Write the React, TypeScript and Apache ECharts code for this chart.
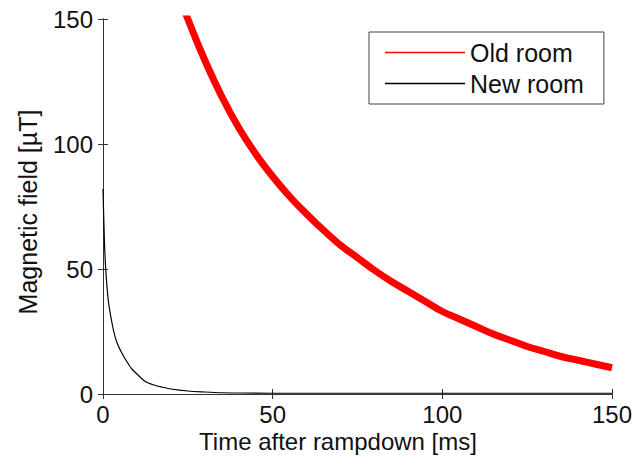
import React, { useEffect, useRef } from "react";
import * as echarts from "echarts";

const oldRoomT = [21, 25, 30, 35, 40, 45, 50, 55, 60, 65, 70, 75, 80, 85, 90, 95, 100, 105, 110, 115, 120, 125, 130, 135, 140, 145, 150];
const oldRoomV = [165, 150, 133.5, 119, 106.5, 96, 87, 79, 72, 65.5, 59.5, 54.5, 49.5, 45, 41, 37, 33, 30, 27, 24, 21.5, 19, 17, 15, 13.5, 12, 10.5];

const newRoomT = [0, 0.4, 0.8, 1.6, 3, 4, 5.5, 7, 8.5, 10, 12.5, 15, 17.5, 20, 25, 30, 35, 40, 50, 75, 100, 125, 150];
const newRoomV = [82, 62, 50, 37, 26, 21, 16.5, 13, 10, 8, 5, 3.6, 2.7, 2, 1.2, 0.8, 0.5, 0.4, 0.3, 0.3, 0.3, 0.3, 0.3];

const xTicks = [0, 50, 100, 150];
const yTicks = [0, 50, 100, 150];

const seriesNames = ["Old room", "New room"];
const seriesColors = ["#ff0000", "#000000"];
const xTitle = "Time after rampdown [ms]";
const yTitle = "Magnetic field [\u00B5T]";

const FONT = "Liberation Sans, Arial, Helvetica, sans-serif";

export default function App() {
  const ref = useRef<HTMLDivElement>(null);
  useEffect(() => {
    if (!ref.current) return;
    const chart = echarts.init(ref.current, undefined, { renderer: "svg" });
    const axisLine = { show: true, lineStyle: { color: "#333", width: 1 } };
    const tick = { show: true, inside: true, length: 5, lineStyle: { color: "#333", width: 1 } };
    chart.setOption({
      animation: false,
      backgroundColor: "#fff",
      grid: { left: 103, right: 24, top: 19, bottom: 72, containLabel: false },
      xAxis: [
        {
          type: "value",
          min: xTicks[0],
          max: xTicks[xTicks.length - 1],
          interval: 50,
          axisLine,
          axisTick: tick,
          splitLine: { show: false },
          axisLabel: { color: "#111", fontSize: 24, fontFamily: FONT, margin: 8 },
        },
        {
          type: "value",
          position: "top",
          min: xTicks[0],
          max: xTicks[xTicks.length - 1],
          interval: 50,
          axisLine,
          axisTick: tick,
          splitLine: { show: false },
          axisLabel: { show: false },
        },
      ],
      yAxis: [
        {
          type: "value",
          min: yTicks[0],
          max: yTicks[yTicks.length - 1],
          interval: 50,
          axisLine,
          axisTick: tick,
          splitLine: { show: false },
          axisLabel: { color: "#111", fontSize: 24, fontFamily: FONT, margin: 10 },
        },
        {
          type: "value",
          position: "right",
          min: yTicks[0],
          max: yTicks[yTicks.length - 1],
          interval: 50,
          axisLine,
          axisTick: tick,
          splitLine: { show: false },
          axisLabel: { show: false },
        },
      ],
      legend: {
        orient: "vertical",
        left: 369,
        top: 32,
        padding: [8, 20, 8, 16],
        itemGap: 6,
        itemWidth: 80,
        itemHeight: 1.5,
        icon: "rect",
        borderColor: "#444",
        borderWidth: 1,
        borderRadius: 0,
        backgroundColor: "#fff",
        textStyle: { fontSize: 25, fontFamily: FONT, color: "#111" },
        data: seriesNames,
      },
      graphic: [
        {
          type: "text",
          x: 338,
          y: 441,
          style: { text: xTitle, fontSize: 24, fontFamily: FONT, fill: "#111", align: "center", verticalAlign: "middle" },
        },
        {
          type: "text",
          x: 28,
          y: 212,
          rotation: Math.PI / 2,
          style: { text: yTitle, fontSize: 25, fontFamily: FONT, fill: "#111", align: "center", verticalAlign: "middle" },
        },
      ],
      series: [
        {
          name: seriesNames[0],
          type: "line",
          data: oldRoomT.map((t, i) => [t, oldRoomV[i]]),
          symbol: "none",
          clip: true,
          smooth: 0.4,
          lineStyle: { color: seriesColors[0], width: 7 },
          itemStyle: { color: seriesColors[0] },
          z: 3,
        },
        {
          name: seriesNames[1],
          type: "line",
          data: newRoomT.map((t, i) => [t, newRoomV[i]]),
          symbol: "none",
          clip: true,
          smooth: 0.3,
          lineStyle: { color: seriesColors[1], width: 1.2 },
          itemStyle: { color: seriesColors[1] },
          z: 4,
        },
      ],
    });
    return () => chart.dispose();
  }, []);
  return <div ref={ref} style={{ width: 636, height: 466, position: "absolute", left: 0, top: 0 }} />;
}
